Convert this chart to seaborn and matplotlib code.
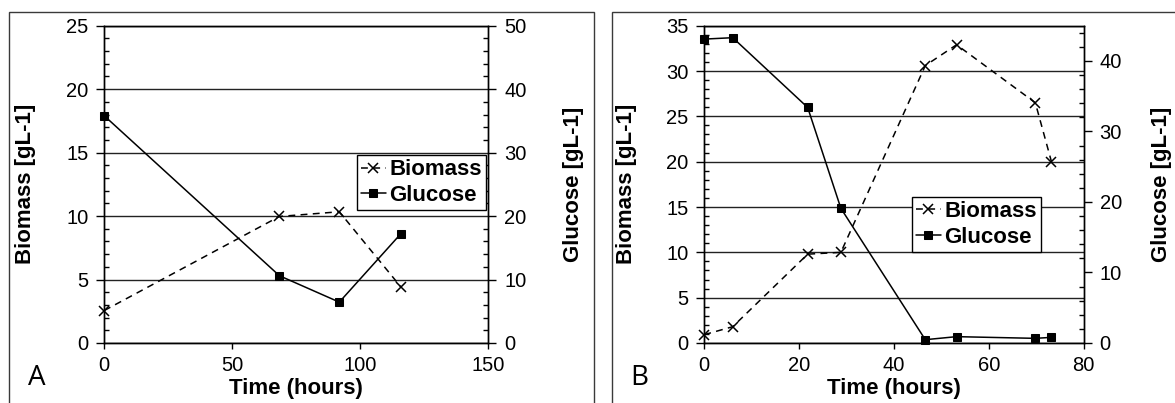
import matplotlib
matplotlib.use("Agg")
import matplotlib.pyplot as plt
import seaborn as sns
from matplotlib.patches import Rectangle
from matplotlib.ticker import MultipleLocator

# ---- data ----
time_a = [0, 68.4, 91.8, 115.8]
biomass_a = [2.56, 9.97, 10.34, 4.43]
glucose_a = [35.8, 10.6, 6.44, 17.2]

time_b = [0, 6.0, 21.8, 28.8, 46.6, 53.2, 69.8, 73.2]
biomass_b = [0.92, 1.8, 9.8, 10.0, 30.6, 32.9, 26.5, 20.0]
glucose_b = [43.1, 43.3, 33.4, 19.1, 0.47, 0.9, 0.66, 0.8]

series_labels = ["Biomass", "Glucose"]
xlabel = "Time (hours)"
ylabel_left = "Biomass [gL-1]"
ylabel_right = "Glucose [gL-1]"

sns.set_theme(style="white")
plt.rcParams["font.family"] = ["Liberation Sans", "DejaVu Sans"]
plt.rcParams.update({
    "text.color": "black", "axes.labelcolor": "black",
    "xtick.color": "black", "ytick.color": "black",
    "axes.edgecolor": "black", "axes.linewidth": 1.0,
})

W, H = 1175, 403
fig = plt.figure(figsize=(W / 100, H / 100), dpi=100)

def px_rect(l, t, r, b):
    return [l / W, 1 - b / H, (r - l) / W, (b - t) / H]

def panel(rect, t, bio, glu, xlim, xstep, y1max, y2max, y2step, letter,
          letter_xy, leg_anchor, rlabel_x):
    ax = fig.add_axes(rect)
    ax2 = ax.twinx()
    sns.lineplot(x=t, y=bio, ax=ax, color="black", marker="x", linestyle="--",
                 dashes=False, lw=1.1, markersize=7, markeredgewidth=1.1,
                 markeredgecolor="black", label=series_labels[0], clip_on=False)
    ax.lines[-1].set_linestyle((0, (4.5, 3.5)))
    sns.lineplot(x=t, y=glu, ax=ax2, color="black", marker="s", lw=1.1,
                 markersize=6, markeredgecolor="black",
                 label=series_labels[1], clip_on=False)
    for a in (ax, ax2):
        if a.get_legend() is not None:
            a.get_legend().remove()
    ax.set_xlim(*xlim)
    ax.set_ylim(0, y1max)
    ax2.set_ylim(0, y2max)
    ax.xaxis.set_major_locator(MultipleLocator(xstep))
    ax.yaxis.set_major_locator(MultipleLocator(5))
    ax.yaxis.set_minor_locator(MultipleLocator(1))
    ax2.yaxis.set_major_locator(MultipleLocator(y2step))
    ax2.yaxis.set_minor_locator(MultipleLocator(2))
    ax.grid(axis="y", which="major", color="#222222", lw=1.0)
    ax.grid(axis="x", visible=False)
    ax2.grid(False)
    ax.set_axisbelow(True)
    ax.tick_params(axis="x", which="major", direction="out", length=4.5,
                   width=1, labelsize=14.5, pad=5, bottom=True)
    ax.tick_params(axis="y", which="major", direction="out", length=5.5,
                   width=1, labelsize=14.5, pad=6, left=True)
    ax.tick_params(axis="y", which="minor", direction="in", length=3.6,
                   width=1, left=True)
    ax2.tick_params(axis="y", which="major", direction="out", length=5.5,
                    width=1, labelsize=14.5, pad=6, right=True)
    ax2.tick_params(axis="y", which="minor", direction="in", length=3.6,
                    width=1, right=True)
    ax.set_xlabel(xlabel, fontsize=16, fontweight="bold", labelpad=0)
    ax.xaxis.set_label_coords(0.5, -0.142)
    ax.xaxis.label.set_va("center")
    ax.set_ylabel(ylabel_left, fontsize=16, fontweight="bold", va="center")
    ax.yaxis.set_label_coords(-0.204, 0.5)
    ax2.set_ylabel(ylabel_right, fontsize=16, fontweight="bold", va="center",
                   rotation=90)
    ax2.yaxis.set_label_coords(rlabel_x, 0.5)
    h1, l1 = ax.get_legend_handles_labels()
    h2, l2 = ax2.get_legend_handles_labels()
    leg = ax2.legend(h1 + h2, l1 + l2, loc="upper right",
                     bbox_to_anchor=leg_anchor, frameon=True, fancybox=False,
                     edgecolor="black", framealpha=1, borderpad=0.2,
                     labelspacing=0.2, handlelength=1.1, handletextpad=0.15,
                     borderaxespad=0, prop={"weight": "bold", "size": 16})
    leg.get_frame().set_linewidth(1.0)
    fig.text(letter_xy[0] / W, 1 - letter_xy[1] / H, letter,
             fontsize=20, family=["Open Sans", "DejaVu Sans"],
             ha="center", va="center")
    return ax, ax2

# panel frames
fig.add_artist(Rectangle((9.3 / W, -0.1), (594 - 9.3) / W, 1.1 - 12.3 / H,
                         transform=fig.transFigure, fill=False,
                         edgecolor="#3a3a3a", lw=1.0))
fig.add_artist(Rectangle((611.7 / W, -0.1), 0.6, 1.1 - 12.3 / H,
                         transform=fig.transFigure, fill=False,
                         edgecolor="#3a3a3a", lw=1.0))

panel(px_rect(104.3, 25.7, 488.3, 343), time_a, biomass_a, glucose_a,
      (0, 150), 50, 25, 50, 10, "A", (37, 378), (0.994, 0.5925), 1.2206)
panel(px_rect(704.3, 25.7, 1083.7, 343), time_b, biomass_b, glucose_b,
      (0, 80), 20, 35, 45, 10, "B", (639, 378), (0.8874, 0.461), 1.204)

fig.savefig("out.png", dpi=100)
